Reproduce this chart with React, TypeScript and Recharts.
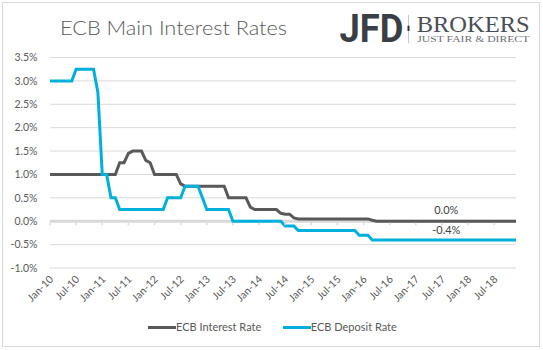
import { LineChart, Line, XAxis, YAxis, CartesianGrid } from "recharts";

const MONTHS = ["Jan", "Feb", "Mar", "Apr", "May", "Jun", "Jul", "Aug", "Sep", "Oct", "Nov", "Dec"];
const YEARS = ["10", "11", "12", "13", "14", "15", "16", "17", "18"];
const categories = YEARS.flatMap((y) => MONTHS.map((m) => `${m}-${y}`));

// ECB main refinancing rate, monthly, Jan-10 .. Dec-18 (one row per year)
const interestRate = [
  1.0, 1.0, 1.0, 1.0, 1.0, 1.0, 1.0, 1.0, 1.0, 1.0, 1.0, 1.0,
  1.0, 1.0, 1.0, 1.0, 1.25, 1.25, 1.45, 1.5, 1.5, 1.5, 1.3, 1.25,
  1.0, 1.0, 1.0, 1.0, 1.0, 1.0, 0.8, 0.75, 0.75, 0.75, 0.75, 0.75,
  0.75, 0.75, 0.75, 0.75, 0.75, 0.5, 0.5, 0.5, 0.5, 0.5, 0.3, 0.25,
  0.25, 0.25, 0.25, 0.25, 0.25, 0.17, 0.15, 0.15, 0.07, 0.05, 0.05, 0.05,
  0.05, 0.05, 0.05, 0.05, 0.05, 0.05, 0.05, 0.05, 0.05, 0.05, 0.05, 0.05,
  0.05, 0.05, 0.02, 0.0, 0.0, 0.0, 0.0, 0.0, 0.0, 0.0, 0.0, 0.0,
  0.0, 0.0, 0.0, 0.0, 0.0, 0.0, 0.0, 0.0, 0.0, 0.0, 0.0, 0.0,
  0.0, 0.0, 0.0, 0.0, 0.0, 0.0, 0.0, 0.0, 0.0, 0.0, 0.0, 0.0,
];

// ECB deposit rate as drawn in the chart
const depositRate = [
  3.0, 3.0, 3.0, 3.0, 3.0, 3.0, 3.25, 3.25, 3.25, 3.25, 3.25, 2.75,
  1.0, 1.0, 0.5, 0.5, 0.25, 0.25, 0.25, 0.25, 0.25, 0.25, 0.25, 0.25,
  0.25, 0.25, 0.25, 0.5, 0.5, 0.5, 0.5, 0.75, 0.75, 0.75, 0.75, 0.5,
  0.25, 0.25, 0.25, 0.25, 0.25, 0.25, 0.0, 0.0, 0.0, 0.0, 0.0, 0.0,
  0.0, 0.0, 0.0, 0.0, 0.0, 0.0, -0.1, -0.1, -0.1, -0.2, -0.2, -0.2,
  -0.2, -0.2, -0.2, -0.2, -0.2, -0.2, -0.2, -0.2, -0.2, -0.2, -0.2, -0.3,
  -0.3, -0.3, -0.4, -0.4, -0.4, -0.4, -0.4, -0.4, -0.4, -0.4, -0.4, -0.4,
  -0.4, -0.4, -0.4, -0.4, -0.4, -0.4, -0.4, -0.4, -0.4, -0.4, -0.4, -0.4,
  -0.4, -0.4, -0.4, -0.4, -0.4, -0.4, -0.4, -0.4, -0.4, -0.4, -0.4, -0.4,
];

const yTicks = [-1.0, -0.5, 0.0, 0.5, 1.0, 1.5, 2.0, 2.5, 3.0, 3.5];
const LABEL_AT = "Aug-17";

const SERIES = [
  { key: "interest", name: "ECB Interest Rate", color: "#595959", labelDy: -7 },
  { key: "deposit", name: "ECB Deposit Rate", color: "#00b0dc", labelDy: -6 },
];

const data = categories.map((c, i) => ({ month: c, interest: interestRate[i], deposit: depositRate[i], zero: 0 }));

const FONT = "Lato, 'Noto Sans', sans-serif";
const TXT = "#595959", GRID = "#d9d9d9";
const pct = (v: number) => v.toFixed(1) + "%";

function XTick({ x, y, payload }: any) {
  return (
    <g transform={`translate(${x + 4},${y + 12}) rotate(-45)`}>
      <text x={0} y={0} textAnchor="end" fill={TXT} fontSize={10.5} fontFamily={FONT}>{payload.value}</text>
    </g>
  );
}

// light zero axis line with Excel-style tick marks every 6 months
function AxisMark(p: any) {
  if (p.index % 6 !== 0) return <g key={p.index} />;
  return <line key={p.index} x1={p.cx} x2={p.cx} y1={p.cy + 1.5} y2={p.cy + 4} stroke={GRID} strokeWidth={1.5} />;
}

function endLabel(dy: number) {
  return (p: any) => {
    if (categories[p.index] !== LABEL_AT) return <g key={p.index} />;
    return <text key={p.index} x={p.x} y={p.y + dy} textAnchor="middle" fill="#404040" fontSize={11} fontFamily={FONT}>{pct(Number(p.value))}</text>;
  };
}

export default function App() {
  return (
    <div style={{ position: "fixed", left: 0, top: 0, width: 543, height: 350, background: "#fff", fontFamily: FONT }}>
      <div style={{ position: "absolute", left: 2, top: 2, width: 536, height: 343, border: "1px solid " + GRID }} />
      <LineChart width={543} height={350} data={data} margin={{ top: 57.5, right: 27, bottom: 0, left: 0 }}>
        <CartesianGrid stroke={GRID} vertical={false} />
        <XAxis dataKey="month" interval={5} height={82} axisLine={false} tickLine={false} tickSize={0} tickMargin={0} tick={<XTick />} />
        <YAxis width={50} domain={[-1, 3.5]} ticks={yTicks} axisLine={false} tickLine={false} tickSize={0} tickMargin={12.5}
          tickFormatter={pct} tick={{ fill: TXT, fontSize: 10.5, fontFamily: FONT }} />
        <Line dataKey="zero" stroke={GRID} strokeWidth={3} dot={AxisMark} activeDot={false} isAnimationActive={false} legendType="none" />
        {SERIES.map((s) => (
          <Line key={s.key} dataKey={s.key} name={s.name} stroke={s.color} strokeWidth={3} dot={false} type="linear"
            isAnimationActive={false} label={endLabel(s.labelDy)} />
        ))}
      </LineChart>
      <svg width={543} height={60} style={{ position: "absolute", left: 0, top: 0 }}>
        <text x={60} y={35} fontSize={20} fontWeight={300} fill={TXT} fontFamily={FONT} textLength={227} lengthAdjust="spacingAndGlyphs">ECB Main Interest Rates</text>
        <text x={339.5} y={42.3} fontSize={38.5} fontWeight={700} fill="#3a3f46" fontFamily="Roboto, sans-serif" textLength={64} lengthAdjust="spacingAndGlyphs">JFD</text>
        <line x1={408.5} x2={408.5} y1={15} y2={43.3} stroke="#c8c8c8" strokeWidth={1} />
        <rect x={407.5} y={25.7} width={2} height={5.3} fill="#333" />
        <text x={416.7} y={31.7} fontSize={24} fill="#4a4f55" fontFamily="'Liberation Serif', serif" textLength={113} lengthAdjust="spacingAndGlyphs">BROKERS</text>
        <text x={417.3} y={42.3} fontSize={8.5} fill="#6b6f74" fontFamily="'Liberation Serif', serif" textLength={112} lengthAdjust="spacingAndGlyphs">JUST FAIR &amp; DIRECT</text>
      </svg>
      <div style={{ position: "absolute", left: 148, top: 320, height: 14, display: "flex", gap: 21.5, alignItems: "center", fontSize: 11, lineHeight: "14px", color: TXT }}>
        {SERIES.map((s) => (
          <div key={s.key} style={{ display: "flex", alignItems: "center" }}>
            <span style={{ display: "inline-block", width: 28, height: 3, background: s.color }} />
            <span>{s.name}</span>
          </div>
        ))}
      </div>
    </div>
  );
}
